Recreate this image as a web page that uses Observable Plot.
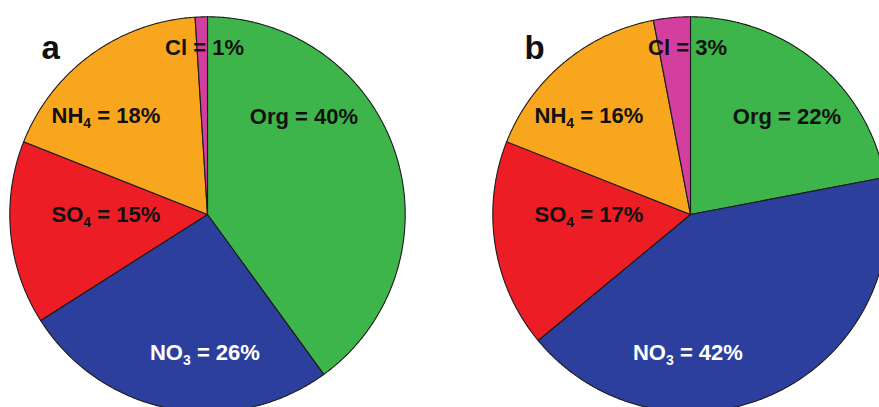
<!DOCTYPE html>
<html><head><meta charset="utf-8">
<script src="https://cdn.jsdelivr.net/npm/d3@7"></script>
<script src="https://cdn.jsdelivr.net/npm/@observablehq/plot@0.6"></script>
<style>html,body{margin:0;padding:0;background:#fff;} #chart svg{display:block}</style>
</head><body><div id="chart"></div>
<script>
// ---- data ----
const categories = ["Org", "NO3", "SO4", "NH4", "Cl"];
const labelNames = ["Org", "NO_3", "SO_4", "NH_4", "Cl"];
const panels = ["a", "b"];
const valuesA = [40, 26, 15, 18, 1];
const valuesB = [22, 42, 17, 16, 3];
const colors = ["#3db54a", "#2c3f9d", "#ec1d25", "#f9a61f", "#d43e9f"];
const lightText = ["NO3"];

// ---- layout ----
const W = 879, H = 407, R = 197.7, CY = 214, centersPx = [207, 690];
const labelOffsets = {Org: [0.488, 0.493], NO3: [-0.013, -0.702], SO4: [-0.514, 0], NH4: [-0.514, 0.498], Cl: [-0.015, 0.84]};
const letterOffset = [-0.84, 0.838];

const panelValues = [valuesA, valuesB];
const slicePts = [];
const labels = [];
const letters = [];
panels.forEach((p, pi) => {
  const cx = (centersPx[pi] - centersPx[0]) / R;
  const vals = panelValues[pi];
  const total = d3.sum(vals);
  let start = 0;
  categories.forEach((c, ci) => {
    const a0 = start / total * 2 * Math.PI;
    const a1 = (start + vals[ci]) / total * 2 * Math.PI;
    start += vals[ci];
    const key = p + "-" + c;
    slicePts.push({key, cat: c, x: cx, y: 0});
    const n = Math.max(2, Math.ceil((a1 - a0) / (Math.PI / 360)));
    for (let k = 0; k <= n; k++) {
      const a = a0 + (a1 - a0) * k / n;
      slicePts.push({key, cat: c, x: cx + Math.sin(a), y: Math.cos(a)});
    }
    slicePts.push({key, cat: c, x: cx, y: 0});
    const off = labelOffsets[c];
    labels.push({x: cx + off[0], y: off[1], text: `${labelNames[ci]} = ${vals[ci]}%`, light: lightText.includes(c)});
  });
  letters.push({x: cx + letterOffset[0], y: letterOffset[1], text: p});
});

const plot = Plot.plot({
  width: W, height: H, margin: 0,
  x: {domain: [-centersPx[0] / R, (W - centersPx[0]) / R], axis: null},
  y: {domain: [-(H - CY) / R, CY / R], axis: null},
  color: {domain: categories, range: colors},
  style: {background: "#fff"},
  marks: [
    Plot.line(slicePts, {x: "x", y: "y", z: "key", fill: "cat", stroke: "#1b1b1b", strokeWidth: 1.1, curve: "linear", strokeLinejoin: "round"}),
    Plot.text(labels.filter(d => !d.light), {x: "x", y: "y", text: "text", fill: "#111", fontSize: 22, fontWeight: "bold", fontFamily: "Liberation Sans, Arial, sans-serif"}),
    Plot.text(labels.filter(d => d.light), {x: "x", y: "y", text: "text", fill: "#fff", fontSize: 22, fontWeight: "bold", fontFamily: "Liberation Sans, Arial, sans-serif"}),
    Plot.text(letters, {x: "x", y: "y", text: "text", fill: "#111", fontSize: 33, fontWeight: "bold", textAnchor: "start", fontFamily: "Liberation Sans, Arial, sans-serif"})
  ]
});

d3.select(plot).selectAll("text").each(function() {
  const s = this.textContent;
  const m = s.match(/^(.*?)_(\d)(.*)$/);
  if (!m) return;
  const el = d3.select(this);
  el.text(null);
  el.append("tspan").text(m[1]);
  el.append("tspan").attr("font-size", 14).attr("dy", 5).text(m[2]);
  el.append("tspan").attr("dy", -5).text(m[3]);
});

document.getElementById("chart").appendChild(plot);
</script>
</body></html>
